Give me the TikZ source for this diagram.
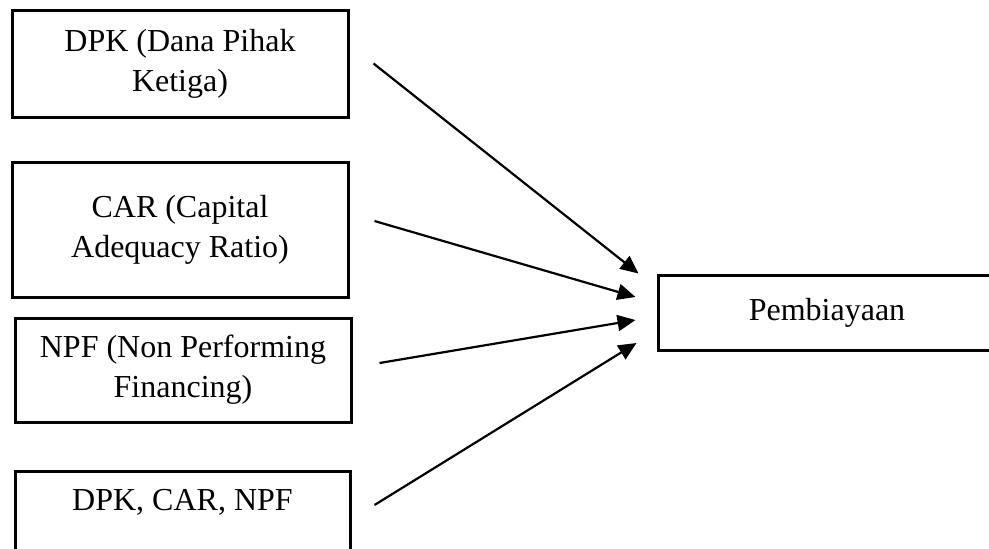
\documentclass[tikz,border=0pt]{standalone}
\usepackage{fontspec}
\setmainfont{Liberation Serif}
\usetikzlibrary{arrows.meta,calc}

\begin{document}
\begin{tikzpicture}[
  x=0.5pt, y=-0.5pt,
  font=\fontsize{16}{20}\selectfont,
  box/.style={rectangle,draw=black,line width=1.5pt,fill=white,align=center,inner sep=0pt,minimum width=168pt},
  arr/.style={-{Triangle[length=9pt,width=8pt]},draw=black,line width=1.1pt}]
\useasboundingbox (0,0) rectangle (989,548);
\node[box, minimum height=53.5pt] (dpk) at (180,63.5) {DPK (Dana Pihak\\Ketiga)};
\node[box, minimum height=67.5pt] (car) at (180,229.5) {CAR (Capital\\Adequacy Ratio)};
\node[box, minimum height=52pt] (npf) at (183,370) {NPF (Non Performing\\Financing)};
\node[box, anchor=north, inner ysep=9pt, text depth=40pt, minimum width=167.5pt] (all) at (182.5,470) {DPK, CAR, NPF};
\node[box, minimum width=169pt, minimum height=37.5pt] (pemb) at (827,312.5) {Pembiayaan};
\draw[arr] ($(dpk.east)+(24,0)$) -- ($(pemb.west)+(-18,-39)$);
\draw[arr] ($(car.east)+(25,-8.5)$) -- ($(pemb.west)+(-21,-15.5)$);
\draw[arr] ($(npf.east)+(27,-7)$) -- ($(pemb.west)+(-21,7.5)$);
\draw[arr] ($(all.north east)+(23,35)$) -- ($(pemb.west)+(-20,30.5)$);
\end{tikzpicture}
\end{document}
